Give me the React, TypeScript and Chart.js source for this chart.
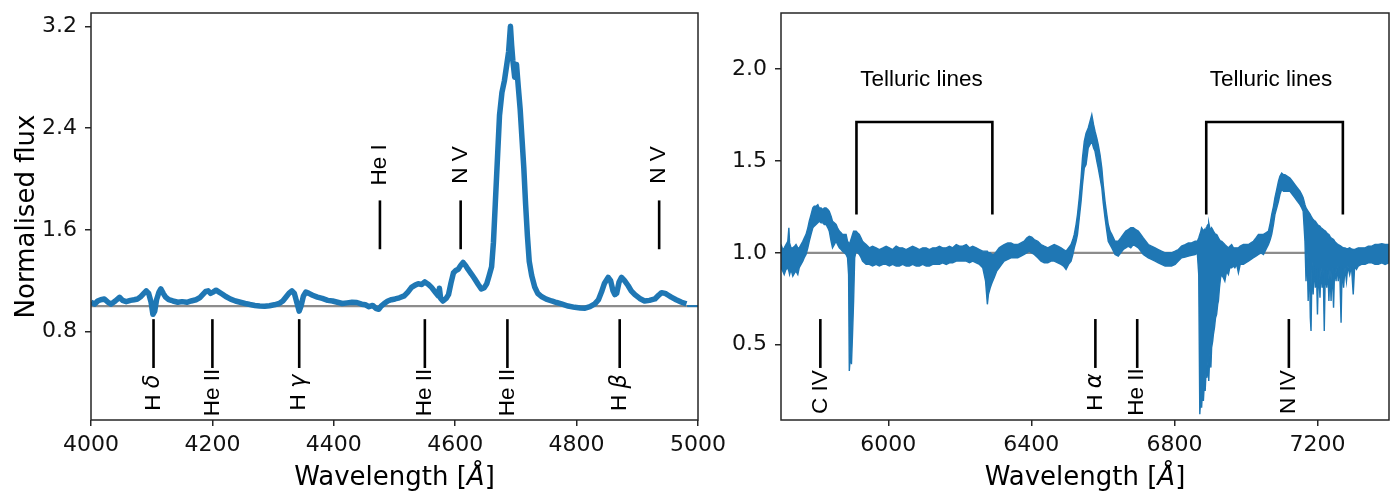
import React, { useEffect, useRef } from 'react';
import { Chart, registerables } from 'chart.js';

Chart.register(...registerables);

// ---------------- data ----------------
const leftWave = [
  4000,4006,4011,4016,4022,4028,4033,4040,4047,4052,
  4058,4065,4071,4077,4082,4087,4091,4095,4099,4102,
  4105,4108,4112,4115,4119,4123,4128,4135,4143,4150,
  4158,4165,4173,4179,4184,4189,4193,4197,4201,4206,
  4211,4216,4222,4230,4238,4246,4254,4262,4270,4278,
  4286,4294,4302,4310,4316,4321,4326,4331,4335,4339,
  4343,4346,4350,4354,4359,4365,4373,4381,4390,4398,
  4406,4414,4422,4430,4438,4446,4452,4458,4464,4470,
  4474,4478,4483,4489,4495,4501,4508,4516,4522,4528,
  4534,4539,4545,4550,4556,4561,4567,4572,4574,4576,
  4580,4585,4589,4593,4597,4601,4605,4609,4613,4617,
  4621,4627,4632,4638,4643,4648,4652,4656,4660,4663,
  4666,4670,4673,4677,4681,4685,4688,4691,4693,4695,
  4698,4701,4704,4707,4710,4713,4716,4719,4722,4726,
  4731,4736,4742,4750,4759,4767,4775,4786,4797,4806,
  4814,4822,4830,4836,4841,4846,4852,4856,4860,4863,
  4866,4870,4874,4879,4885,4890,4896,4904,4912,4920,
  4929,4935,4940,4946,4951,4956,4964,4973,4981,
];
const leftFlux = [
  1.03,1.015,1.04,1.05,1.056,1.03,1.015,1.04,1.069,1.045,
  1.035,1.045,1.05,1.056,1.075,1.1,1.12,1.1,1.03,0.935,
  0.96,1.05,1.11,1.135,1.1,1.07,1.05,1.04,1.03,1.035,
  1.03,1.04,1.05,1.065,1.09,1.115,1.12,1.1,1.11,1.125,
  1.11,1.095,1.075,1.055,1.04,1.03,1.02,1.012,1.005,1.0,
  0.998,1.003,1.01,1.02,1.04,1.07,1.1,1.12,1.1,1.03,
  0.96,1.0,1.08,1.11,1.1,1.085,1.07,1.06,1.045,1.04,
  1.03,1.02,1.025,1.03,1.028,1.015,1.01,0.995,1.005,0.98,
  0.975,1.0,1.02,1.04,1.05,1.056,1.065,1.08,1.11,1.147,
  1.165,1.175,1.17,1.19,1.17,1.147,1.11,1.08,1.14,1.06,
  1.04,1.06,1.09,1.18,1.26,1.28,1.29,1.32,1.343,1.32,
  1.29,1.25,1.215,1.17,1.135,1.145,1.175,1.24,1.31,1.5,
  1.8,2.2,2.5,2.68,2.77,2.9,3.0,3.2,3.05,2.93,
  2.8,2.9,2.72,2.55,2.32,2.09,1.8,1.55,1.35,1.24,
  1.15,1.1,1.075,1.055,1.04,1.028,1.017,1.0,0.99,0.985,
  0.983,0.995,1.017,1.05,1.11,1.18,1.226,1.2,1.12,1.09,
  1.1,1.19,1.226,1.2,1.16,1.12,1.09,1.06,1.04,1.045,
  1.056,1.085,1.105,1.1,1.085,1.07,1.05,1.03,1.017,
];
const leftTailWave = [4982, 5000];
const leftTailFlux = [1.0, 1.0];

const rightWave = [
  5700,5705,5709,5714,5719,5722,5724,5728,5733,5738,
  5742,5747,5751,5756,5761,5765,5770,5775,5779,5784,
  5789,5793,5798,5803,5807,5812,5817,5821,5826,5831,
  5835,5840,5844,5849,5854,5858,5863,5868,5872,5877,
  5882,5886,5889,5891,5894,5897,5900,5903,5906,5910,
  5914,5919,5924,5928,5933,5938,5947,5956,5966,5975,
  5985,5994,6003,6012,6022,6031,6040,6050,6059,6068,
  6078,6087,6096,6106,6115,6124,6134,6143,6152,6162,
  6171,6180,6190,6199,6208,6218,6227,6236,6246,6255,
  6264,6272,6277,6280,6285,6290,6296,6303,6310,6317,
  6324,6334,6343,6352,6362,6371,6380,6387,6394,6401,
  6408,6418,6427,6436,6446,6455,6464,6474,6483,6490,
  6497,6504,6511,6516,6520,6525,6529,6534,6539,6543,
  6548,6553,6559,6564,6569,6574,6578,6583,6587,6592,
  6597,6601,6606,6611,6615,6620,6625,6634,6643,6650,
  6657,6664,6671,6678,6685,6692,6699,6706,6713,6720,
  6727,6736,6746,6755,6764,6774,6783,6792,6802,6811,
  6820,6830,6839,6848,6858,6864,6868,6871,6874,6876,
  6879,6881,6884,6886,6889,6891,6894,6896,6899,6902,
  6904,6907,6909,6912,6915,6918,6921,6923,6926,6929,
  6932,6937,6941,6946,6951,6955,6960,6965,6969,6974,
  6979,6984,6993,7000,7007,7014,7021,7028,7035,7042,
  7049,7056,7063,7068,7072,7077,7081,7086,7091,7095,
  7100,7105,7109,7116,7123,7130,7137,7144,7151,7156,
  7160,7165,7168,7171,7174,7177,7180,7182,7185,7188,
  7191,7194,7197,7200,7203,7207,7210,7213,7216,7219,
  7222,7226,7229,7232,7235,7238,7241,7245,7248,7252,
  7255,7258,7262,7266,7269,7273,7277,7281,7285,7290,
  7295,7300,7304,7309,7314,7323,7333,7342,7352,7361,
  7370,7380,7389,7400,
];
const rightUpper = [
  1.045,1.018,1.027,1.045,1.063,1.136,1.054,1.027,1.027,1.036,
  1.045,1.027,1.027,1.045,1.063,1.081,1.100,1.136,1.172,1.208,
  1.244,1.253,1.253,1.262,1.244,1.244,1.235,1.244,1.244,1.235,
  1.226,1.199,1.172,1.163,1.154,1.136,1.118,1.109,1.100,1.100,
  1.100,1.063,1.054,1.045,1.063,1.081,1.100,1.118,1.118,1.118,
  1.109,1.100,1.081,1.063,1.054,1.045,1.027,1.036,1.027,1.018,
  1.027,1.036,1.027,1.018,1.036,1.027,1.027,1.018,1.027,1.036,
  1.027,1.018,1.027,1.027,1.018,1.027,1.027,1.036,1.027,1.027,
  1.036,1.027,1.045,1.036,1.036,1.045,1.027,1.036,1.027,1.018,
  1.009,1.009,1.009,1.000,1.000,0.991,0.991,1.009,1.027,1.036,
  1.045,1.054,1.054,1.045,1.045,1.054,1.063,1.081,1.090,1.085,
  1.072,1.063,1.045,1.036,1.027,1.036,1.045,1.036,1.027,1.018,
  1.009,1.027,1.045,1.072,1.100,1.154,1.208,1.299,1.407,1.516,
  1.606,1.651,1.679,1.715,1.751,1.697,1.661,1.624,1.588,1.534,
  1.461,1.371,1.280,1.208,1.154,1.118,1.100,1.063,1.063,1.081,
  1.100,1.118,1.127,1.136,1.136,1.127,1.118,1.100,1.081,1.063,
  1.045,1.036,1.027,1.018,1.009,1.000,1.000,1.000,1.009,1.018,
  1.036,1.045,1.054,1.054,1.063,1.063,1.081,1.100,1.118,1.136,
  1.127,1.118,1.127,1.118,1.136,1.145,1.154,1.163,1.136,1.127,
  1.136,1.127,1.118,1.109,1.100,1.100,1.090,1.081,1.072,1.063,
  1.063,1.054,1.045,1.036,1.027,1.036,1.045,1.027,1.027,1.027,
  1.027,1.036,1.045,1.045,1.045,1.054,1.063,1.081,1.100,1.100,
  1.100,1.109,1.118,1.163,1.208,1.253,1.299,1.344,1.389,1.416,
  1.434,1.425,1.425,1.416,1.407,1.389,1.371,1.353,1.335,1.317,
  1.299,1.262,1.244,1.235,1.226,1.217,1.208,1.199,1.190,1.181,
  1.176,1.172,1.163,1.154,1.150,1.145,1.136,1.132,1.127,1.122,
  1.118,1.109,1.103,1.100,1.090,1.081,1.078,1.072,1.063,1.054,
  1.049,1.045,1.041,1.036,1.031,1.027,1.027,1.023,1.023,1.027,
  1.022,1.018,1.018,1.023,1.027,1.027,1.027,1.036,1.036,1.045,
  1.045,1.049,1.045,1.045,
];
const rightLower = [
  0.919,0.900,0.882,0.910,0.919,0.900,0.882,0.910,0.873,0.891,
  0.900,0.882,0.919,0.937,0.955,0.973,0.991,1.027,1.063,1.100,
  1.136,1.145,1.154,1.163,1.172,1.163,1.163,1.154,1.154,1.136,
  1.118,1.063,1.027,1.045,1.063,1.045,1.027,1.018,1.009,1.000,
  0.991,0.973,0.882,0.358,0.448,0.394,0.557,0.738,0.973,1.009,
  1.000,0.991,0.973,0.955,0.946,0.937,0.937,0.928,0.937,0.928,
  0.937,0.937,0.928,0.937,0.928,0.928,0.937,0.928,0.928,0.937,
  0.928,0.928,0.937,0.928,0.928,0.937,0.937,0.937,0.946,0.937,
  0.946,0.946,0.955,0.955,0.955,0.955,0.946,0.955,0.946,0.937,
  0.919,0.846,0.720,0.774,0.810,0.837,0.864,0.900,0.919,0.937,
  0.955,0.964,0.973,0.973,0.973,0.982,0.991,1.000,1.009,1.000,
  0.991,0.973,0.955,0.946,0.946,0.955,0.955,0.946,0.937,0.928,
  0.910,0.937,0.955,0.991,1.027,1.063,1.100,1.190,1.280,1.371,
  1.461,1.480,1.570,1.588,1.606,1.570,1.552,1.498,1.461,1.407,
  1.353,1.271,1.190,1.118,1.063,1.045,1.027,0.991,0.982,1.000,
  1.018,1.027,1.036,1.027,1.045,1.036,1.027,1.009,0.991,0.982,
  0.973,0.964,0.955,0.946,0.937,0.928,0.928,0.928,0.937,0.955,
  0.973,0.977,0.982,0.987,0.991,1.000,0.882,0.122,0.231,0.158,
  0.267,0.195,0.303,0.249,0.376,0.321,0.412,0.303,0.448,0.376,
  0.484,0.520,0.557,0.593,0.647,0.665,0.720,0.738,0.810,0.864,
  0.882,0.864,0.846,0.900,0.882,0.919,0.919,0.928,0.919,0.937,
  0.891,0.937,0.937,0.946,0.955,0.964,0.973,0.982,0.991,1.000,
  0.991,1.018,1.045,1.072,1.100,1.154,1.208,1.244,1.280,1.317,
  1.344,1.335,1.335,1.335,1.335,1.317,1.299,1.280,1.262,1.244,
  1.226,1.063,0.846,1.009,0.738,0.973,0.647,0.575,0.955,0.774,
  0.937,0.810,0.919,0.665,0.919,0.756,0.919,0.810,0.910,0.575,
  0.910,0.810,0.919,0.738,0.910,0.738,0.919,0.701,0.919,0.846,
  0.928,0.846,0.928,0.620,0.928,0.810,0.919,0.846,0.928,0.882,
  0.928,0.774,0.928,0.910,0.928,0.937,0.937,0.946,0.946,0.937,
  0.937,0.946,0.937,0.946,
];

const leftXTicks = [4000, 4200, 4400, 4600, 4800, 5000];
const leftYTicks = [0.8, 1.6, 2.4, 3.2];
const rightXTicks = [6000, 6400, 6800, 7200];
const rightYTicks = [0.5, 1.0, 1.5, 2.0];

const leftLowerLabels = ['H δ', 'He II', 'H γ', 'He II', 'He II', 'H β'];
const leftLowerWaves = [4103, 4200, 4343, 4550, 4686, 4871];
const leftUpperLabels = ['He I', 'N V', 'N V'];
const leftUpperWaves = [4476, 4609, 4936];
const rightLowerLabels = ['C IV', 'H α', 'He II', 'N IV'];
const rightLowerWaves = [5810, 6579, 6696, 7120];
const tellStart = [5911, 6889];
const tellEnd = [6291, 7271];
const tellLabels = ['Telluric lines', 'Telluric lines'];
const tellLabelWaves = [6093, 7070];

// ---------------- styles ----------------
const BLUE = '#1f77b4';
const GREY = '#8c8c8c';
const FRAME = '#262626';
const INK = '#000000';
const LABEL_FONT = '22.5px "Liberation Sans"';
const LABEL_ITALIC = 'italic 22.5px "DejaVu Sans"';
const TITLE_FONT = '26px "DejaVu Sans"';
const TITLE_ITALIC = 'italic 26px "DejaVu Sans"';
const TICK_SIZE = 22;

function drawVLabel(ctx: CanvasRenderingContext2D, text: string, x: number, y: number) {
  ctx.save();
  ctx.translate(x, y);
  ctx.rotate(-Math.PI / 2);
  ctx.textBaseline = 'middle';
  const m = text.match(/^(.*\s)([α-ω])$/);
  if (m) {
    ctx.font = LABEL_FONT;
    const w1 = ctx.measureText(m[1]).width;
    ctx.font = LABEL_ITALIC;
    const w2 = ctx.measureText(m[2]).width;
    const start = -(w1 + w2) / 2;
    ctx.textAlign = 'left';
    ctx.font = LABEL_FONT;
    ctx.fillText(m[1], start, 0);
    ctx.font = LABEL_ITALIC;
    ctx.fillText(m[2], start + w1, 0);
  } else {
    ctx.font = LABEL_FONT;
    ctx.textAlign = 'center';
    ctx.fillText(text, 0, 0);
  }
  ctx.restore();
}

type Group = { labels: string[]; waves: number[]; barFrom: number; barTo: number; textAt: number };
type Bracket = { starts: number[]; ends: number[]; top: number; foot: number; labels: string[]; labelWaves: number[]; labelAt: number };

function makePlugin(groups: Group[], bracket: Bracket | null, yTitle: string | null) {
  return {
    id: 'specAnno',
    afterDatasetsDraw(chart: any) {
      const { ctx, scales } = chart;
      const xs = scales.x;
      const ys = scales.y;
      ctx.save();
      ctx.strokeStyle = INK;
      ctx.fillStyle = INK;
      ctx.lineWidth = 2.6;
      ctx.lineCap = 'butt';
      for (const g of groups) {
        g.waves.forEach((w, i) => {
          const px = xs.getPixelForValue(w);
          ctx.beginPath();
          ctx.moveTo(px, ys.getPixelForValue(g.barFrom));
          ctx.lineTo(px, ys.getPixelForValue(g.barTo));
          ctx.stroke();
          drawVLabel(ctx, g.labels[i], px, ys.getPixelForValue(g.textAt));
        });
      }
      if (bracket) {
        ctx.lineJoin = 'miter';
        bracket.starts.forEach((s, i) => {
          const x1 = xs.getPixelForValue(s);
          const x2 = xs.getPixelForValue(bracket.ends[i]);
          const yt = ys.getPixelForValue(bracket.top);
          const yf = ys.getPixelForValue(bracket.foot);
          ctx.beginPath();
          ctx.moveTo(x1, yf);
          ctx.lineTo(x1, yt);
          ctx.lineTo(x2, yt);
          ctx.lineTo(x2, yf);
          ctx.stroke();
        });
        ctx.font = LABEL_FONT;
        ctx.textAlign = 'center';
        ctx.textBaseline = 'alphabetic';
        bracket.labels.forEach((t, i) => {
          ctx.fillText(t, xs.getPixelForValue(bracket.labelWaves[i]), ys.getPixelForValue(bracket.labelAt));
        });
      }
      ctx.restore();
    },
    afterDraw(chart: any) {
      const { ctx, chartArea: a } = chart;
      ctx.save();
      ctx.strokeStyle = FRAME;
      ctx.lineWidth = 1.5;
      ctx.strokeRect(a.left, a.top, a.right - a.left, a.bottom - a.top);
      ctx.fillStyle = INK;
      ctx.textBaseline = 'alphabetic';
      ctx.textAlign = 'left';
      const parts: [string, string][] = [['Wavelength [', TITLE_FONT], ['Å', TITLE_ITALIC], [']', TITLE_FONT]];
      let total = 0;
      const widths = parts.map(([t, f]) => { ctx.font = f; const w = ctx.measureText(t).width; total += w; return w; });
      let x = (a.left + a.right) / 2 - total / 2;
      parts.forEach(([t, f], i) => { ctx.font = f; ctx.fillText(t, x, 485); x += widths[i]; });
      if (yTitle) {
        ctx.save();
        ctx.translate(34, (a.top + a.bottom) / 2);
        ctx.rotate(-Math.PI / 2);
        ctx.font = TITLE_FONT;
        ctx.textAlign = 'center';
        ctx.fillText(yTitle, 0, 0);
        ctx.restore();
      }
      ctx.restore();
    },
  };
}

function axisCommon(tickValues: number[], fmt: (v: number) => string, pad: number) {
  return {
    type: 'linear' as const,
    grid: { display: true, drawOnChartArea: false, drawTicks: true, tickLength: 6, color: FRAME, lineWidth: 1.5 },
    border: { display: false },
    afterBuildTicks: (ax: any) => { ax.ticks = tickValues.map((v) => ({ value: v })); },
    ticks: {
      autoSkip: false,
      maxRotation: 0,
      minRotation: 0,
      padding: pad,
      color: '#111111',
      font: { family: 'DejaVu Sans', size: TICK_SIZE },
      callback: (v: any) => fmt(Number(v)),
    },
  };
}

function fitX(s: any) { s.height = 71; s.paddingLeft = 0; s.paddingRight = 0; }
function fitY(w: number) { return (s: any) => { s.width = w; s.paddingTop = 0; s.paddingBottom = 0; }; }

function zip(xs: number[], ys: number[]) {
  const n = Math.min(xs.length, ys.length);
  const out: { x: number; y: number }[] = [];
  for (let i = 0; i < n; i++) out.push({ x: xs[i], y: ys[i] });
  return out;
}

function leftConfig(): any {
  return {
    type: 'line',
    data: {
      datasets: [
        { data: zip(leftWave, leftFlux), borderColor: BLUE, borderWidth: 5.5, pointRadius: 0, tension: 0, fill: false, borderJoinStyle: 'round' },
        { data: zip(leftTailWave, leftTailFlux), borderColor: BLUE, borderWidth: 2, pointRadius: 0, fill: false },
        { data: [{ x: 4000, y: 1 }, { x: 5000, y: 1 }], borderColor: GREY, borderWidth: 2.2, pointRadius: 0, fill: false },
      ],
    },
    options: {
      responsive: false,
      animation: false,
      events: [],
      layout: { padding: { left: 0, right: 42, top: 13, bottom: 0 } },
      plugins: { legend: { display: false }, tooltip: { enabled: false } },
      scales: {
        x: { ...axisCommon(leftXTicks, (v) => String(v), 6), min: 4000, max: 5000, afterFit: fitX },
        y: { ...axisCommon(leftYTicks, (v) => v.toFixed(1), 8), min: 0.104, max: 3.305, afterFit: fitY(91) },
      },
    },
    plugins: [
      makePlugin(
        [
          { labels: leftLowerLabels, waves: leftLowerWaves, barFrom: 0.897, barTo: 0.513, textAt: 0.32 },
          { labels: leftUpperLabels, waves: leftUpperWaves, barFrom: 1.447, barTo: 1.831, textAt: 2.11 },
        ],
        null,
        'Normalised flux',
      ),
    ],
  };
}

function rightConfig(): any {
  return {
    type: 'line',
    data: {
      datasets: [
        { data: zip(rightWave, rightUpper), borderColor: BLUE, backgroundColor: BLUE, borderWidth: 1.4, pointRadius: 0, tension: 0, fill: '+1' },
        { data: zip(rightWave, rightLower), borderColor: BLUE, borderWidth: 1.4, pointRadius: 0, tension: 0, fill: false },
        { data: [{ x: 5700, y: 1 }, { x: 7400, y: 1 }], borderColor: GREY, borderWidth: 2.2, pointRadius: 0, fill: false },
      ],
    },
    options: {
      responsive: false,
      animation: false,
      events: [],
      layout: { padding: { left: 0, right: 8, top: 13, bottom: 0 } },
      plugins: { legend: { display: false }, tooltip: { enabled: false } },
      scales: {
        x: { ...axisCommon(rightXTicks, (v) => String(v), 6), min: 5700, max: 7400, afterFit: fitX },
        y: { ...axisCommon(rightYTicks, (v) => v.toFixed(1), 8), min: 0.091, max: 2.304, afterFit: fitY(81) },
      },
    },
    plugins: [
      makePlugin(
        [{ labels: rightLowerLabels, waves: rightLowerWaves, barFrom: 0.64, barTo: 0.374, textAt: 0.243 }],
        { starts: tellStart, ends: tellEnd, top: 1.711, foot: 1.208, labels: tellLabels, labelWaves: tellLabelWaves, labelAt: 1.909 },
        null,
      ),
    ],
  };
}

function Panel({ make, left, width }: { make: () => any; left: number; width: number }) {
  const ref = useRef<HTMLCanvasElement>(null);
  useEffect(() => {
    if (!ref.current) return;
    const chart = new Chart(ref.current, make());
    return () => chart.destroy();
  }, []);
  return (
    <canvas
      ref={ref}
      width={width}
      height={491}
      style={{ position: 'absolute', left, top: 0, width, height: 491 }}
    />
  );
}

export default function App() {
  return (
    <div style={{ position: 'fixed', left: 0, top: 0, width: 1397, height: 491, background: '#ffffff', overflow: 'hidden' }}>
      <Panel make={leftConfig} left={0} width={740} />
      <Panel make={rightConfig} left={700} width={697} />
    </div>
  );
}
